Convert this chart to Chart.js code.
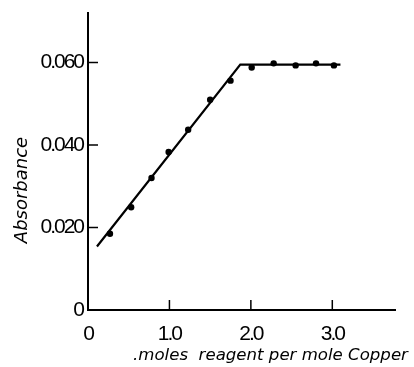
<!DOCTYPE html>
<html>
<head>
<meta charset="utf-8">
<script src="https://cdn.jsdelivr.net/npm/chart.js@4"></script>
<style>
  html, body { margin: 0; padding: 0; background: #fff; }
  #wrap { width: 414px; height: 367px; }
</style>
</head>
<body>
<div id="wrap"><canvas id="chart"></canvas></div>
<script>
// measured points (moles reagent per mole copper vs absorbance)
var ratio = [0.27, 0.53, 0.78, 0.99, 1.23, 1.50, 1.75, 2.01, 2.28, 2.55, 2.80, 3.02];
var absorb = [0.0185, 0.0249, 0.032, 0.0383, 0.0437, 0.051, 0.0556, 0.0588, 0.0598, 0.0593, 0.0598, 0.0593];

// fitted straight lines
var fitX = [0.11, 1.87, 3.10];
var fitY = [0.0154, 0.0595, 0.0595];

var xTicks = [0, 1, 2, 3];
var yTicks = [0, 0.02, 0.04, 0.06];
var xLabels = ["0", "1.0", "2.0", "3.0"];
var yLabels = ["0", "0.020", "0.040", "0.060"];

var tickFont = "'Liberation Sans', sans-serif";
var titleFont = "'DejaVu Sans', sans-serif";

window.onload = main;

function main(){
    var extras = {
        id: "extras",
        beforeDraw: function(chart){
            // condensed look for the tick numbers
            chart.ctx.letterSpacing = "-2px";
        },
        afterDraw: function(chart){
            var ctx = chart.ctx;
            var xs = chart.scales.x, ys = chart.scales.y;
            ctx.save();
            ctx.letterSpacing = "0px";
            ctx.strokeStyle = "#000";
            ctx.lineWidth = 1.5;
            // inward tick marks
            yTicks.forEach(function(v){
                if (v === 0) return;
                var py = ys.getPixelForValue(v);
                ctx.beginPath();
                ctx.moveTo(xs.left, py);
                ctx.lineTo(xs.left + 10, py);
                ctx.stroke();
            });
            xTicks.forEach(function(v){
                if (v === 0) return;
                var px = xs.getPixelForValue(v);
                ctx.beginPath();
                ctx.moveTo(px, ys.bottom);
                ctx.lineTo(px, ys.bottom - 10);
                ctx.stroke();
            });
            // axis titles
            ctx.fillStyle = "#000";
            ctx.font = "italic 16.6px " + titleFont;
            ctx.textAlign = "left";
            ctx.textBaseline = "middle";
            ctx.fillText(".moles  reagent per mole Copper", 133, 356);
            ctx.textAlign = "center";
            ctx.translate(22, 190);
            ctx.rotate(-Math.PI / 2);
            ctx.font = "italic 18px " + titleFont;
            ctx.fillText("Absorbance", 0, 0);
            ctx.restore();
        }
    };

    new Chart(document.getElementById("chart"), {
        type: "scatter",
        data: {
            datasets: [
                {
                    label: "fit",
                    type: "line",
                    data: fitX.map(function(x, i){ return {x: x, y: fitY[i]}; }),
                    borderColor: "#000",
                    borderWidth: 2.2,
                    pointRadius: 0,
                    fill: false,
                    tension: 0
                },
                {
                    label: "measured",
                    data: ratio.map(function(x, i){ return {x: x, y: absorb[i]}; }),
                    backgroundColor: "#000",
                    borderColor: "#000",
                    pointRadius: 3.2,
                    pointBorderWidth: 0
                }
            ]
        },
        options: {
            responsive: true,
            maintainAspectRatio: false,
            animation: false,
            layout: { padding: { top: 13, right: 19, left: 0, bottom: 0 } },
            plugins: {
                legend: { display: false },
                tooltip: { enabled: false }
            },
            scales: {
                x: {
                    type: "linear",
                    min: 0,
                    max: 3.77,
                    grid: { display: false },
                    border: { display: true, color: "#000", width: 2 },
                    afterBuildTicks: function(scale){
                        scale.ticks = xTicks.map(function(v){ return {value: v}; });
                    },
                    afterFit: function(scale){ scale.height = 57; },
                    ticks: {
                        color: "#000",
                        padding: 4,
                        maxRotation: 0,
                        autoSkip: false,
                        font: { family: tickFont, size: 21 },
                        callback: function(v){ return xLabels[xTicks.indexOf(v)]; }
                    }
                },
                y: {
                    type: "linear",
                    min: 0,
                    max: 0.072,
                    grid: { display: false },
                    border: { display: true, color: "#000", width: 2 },
                    afterBuildTicks: function(scale){
                        scale.ticks = yTicks.map(function(v){ return {value: v}; });
                    },
                    afterFit: function(scale){ scale.width = 88; },
                    ticks: {
                        color: "#000",
                        padding: -3,
                        autoSkip: false,
                        font: { family: tickFont, size: 21 },
                        callback: function(v){ return yLabels[yTicks.indexOf(v)]; }
                    }
                }
            }
        },
        plugins: [extras]
    });
}
</script>
</body>
</html>
